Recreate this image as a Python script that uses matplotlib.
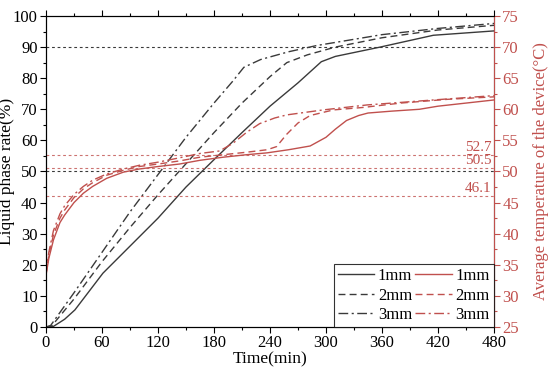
import numpy as np
import matplotlib.pyplot as plt

plt.rcParams['font.family'] = ['Liberation Serif', 'DejaVu Serif']
plt.rcParams['mathtext.fontset'] = 'dejavuserif'

RED = '#c0504d'
GREY = '#3a3a3a'

# liquid phase rate (%)
t_1mm = [0, 8, 20, 31, 45, 61, 90, 120, 150, 180, 210, 240, 270, 295, 310, 358, 415, 480]
lp_1mm = [0, 0.2, 2.5, 5.5, 11, 17.3, 26, 35, 45, 53.8, 62.5, 71, 78.5, 85.3, 87, 90, 93.8, 95.2]

t_2mm = [0, 6, 30, 60, 90, 120, 150, 180, 210, 240, 258, 280, 310, 360, 420, 480]
lp_2mm = [0, 0.3, 9, 21, 32, 42.5, 52.5, 62.5, 72, 80.5, 85, 87.5, 90, 93, 95.5, 97]

t_3mm = [0, 5, 30, 60, 90, 120, 150, 180, 200, 212, 230, 260, 290, 330, 360, 420, 480]
lp_3mm = [0, 0.5, 11, 24, 37, 49, 61, 72, 79, 83.5, 86, 88.5, 90.5, 92.5, 94, 96, 97.6]

# average temperature of the device (degC)
tt_1mm = [0, 3, 8, 15, 20, 30, 40, 50, 65, 83, 100, 120, 143, 165, 190, 215, 237, 260, 283,
          300, 310, 322, 335, 345, 370, 400, 420, 450, 480]
temp_1mm = [33.3, 36, 39, 41.8, 43, 45, 46.5, 47.6, 48.9, 49.9, 50.4, 50.8, 51.2, 51.8, 52.3,
            52.7, 53, 53.5, 54.1, 55.5, 56.8, 58.2, 59, 59.4, 59.7, 60, 60.5, 61, 61.5]

tt_2mm = [0, 3, 8, 15, 20, 30, 40, 50, 65, 83, 100, 120, 143, 165, 190, 215, 237, 247, 258,
          270, 283, 308, 340, 380, 430, 480]
temp_2mm = [33.5, 36.5, 39.8, 42.5, 43.8, 45.8, 47.2, 48.2, 49.4, 50.2, 50.8, 51.2, 51.7, 52.3,
            52.7, 53.1, 53.5, 54, 56, 57.8, 59, 59.9, 60.3, 61, 61.6, 62]

tt_3mm = [0, 3, 8, 15, 20, 30, 40, 50, 65, 83, 100, 120, 143, 165, 186, 200, 215, 229, 245,
          258, 297, 344, 415, 480]
temp_3mm = [33.5, 37, 40.5, 43.2, 44.5, 46.3, 47.6, 48.6, 49.6, 50.4, 51, 51.5, 52.2, 52.9,
            53.3, 54.5, 56.3, 57.7, 58.6, 59.1, 59.9, 60.7, 61.5, 62.2]

lp_refs = [90, 50]
temp_refs = [52.7, 50.5, 46.1]
labels = ['1mm', '2mm', '3mm']
styles = ['-', (0, (5, 3)), (0, (7, 2.5, 1.5, 2.5))]

fig = plt.figure(figsize=(5.5, 3.77), dpi=100)
ax = fig.add_axes([0.0836, 0.1326, 0.8146, 0.825])
ax2 = ax.twinx()

for y in lp_refs:
    ax.axhline(y, color=GREY, lw=0.8, ls=(0, (2.5, 2.5)), zorder=1)
for y in temp_refs:
    ax2.axhline(y, color=RED, lw=0.8, ls=(0, (2.5, 2.5)), alpha=0.8, zorder=1)
    ax2.text(477, y + 0.15, f'{y}', color=RED, fontsize=11, ha='right', va='bottom')

h_black = []
for t, v, ls, lab in zip([t_1mm, t_2mm, t_3mm], [lp_1mm, lp_2mm, lp_3mm], styles, labels):
    h, = ax.plot(t, v, color=GREY, lw=1.0, ls=ls, label=lab)
    h_black.append(h)

h_red = []
for t, v, ls, lab in zip([tt_1mm, tt_2mm, tt_3mm], [temp_1mm, temp_2mm, temp_3mm], styles, labels):
    h, = ax2.plot(t, v, color=RED, lw=1.0, ls=ls, label=lab)
    h_red.append(h)

ax.set_xlim(0, 480)
ax.set_ylim(0, 100)
ax2.set_ylim(25, 75)
ax.set_xticks(np.arange(0, 481, 60))
ax.set_xticks(np.arange(30, 481, 60), minor=True)
ax.set_yticks(np.arange(0, 101, 10))
ax.set_yticks(np.arange(5, 100, 10), minor=True)
ax2.set_yticks(np.arange(25, 76, 5))
ax2.set_yticks(np.arange(27.5, 75, 5), minor=True)

ax.tick_params(axis='both', which='major', labelsize=12, length=4, width=0.8, pad=2)
ax.tick_params(axis='both', which='minor', length=2, width=0.8)
ax.tick_params(axis='x', top=True, which='both')
ax2.tick_params(axis='y', which='major', labelsize=12, length=4, width=0.8, pad=2,
                colors=RED, labelcolor=RED)
ax2.tick_params(axis='y', which='minor', length=2, width=0.8, colors=RED)
ax2.spines['right'].set_color(RED)

ax.set_xlabel('Time(min)', fontsize=12.5, labelpad=0)
ax.set_ylabel('Liquid phase rate(%)', fontsize=12.5)
ax.yaxis.set_label_coords(-0.07, 0.5)
ax2.set_ylabel('Average temperature of the device(°C)', fontsize=12, color=RED)
ax2.yaxis.set_label_coords(1.088, 0.5)

leg = ax2.legend(h_black + h_red, labels + labels, ncol=2, loc='lower right',
                 borderaxespad=0, fontsize=12, handlelength=2.2, columnspacing=0.2,
                 handletextpad=0.2, labelspacing=0.2, borderpad=0.25, fancybox=False)
leg.get_frame().set_edgecolor('black')
leg.get_frame().set_linewidth(0.8)

fig.savefig('out.png', dpi=100)
